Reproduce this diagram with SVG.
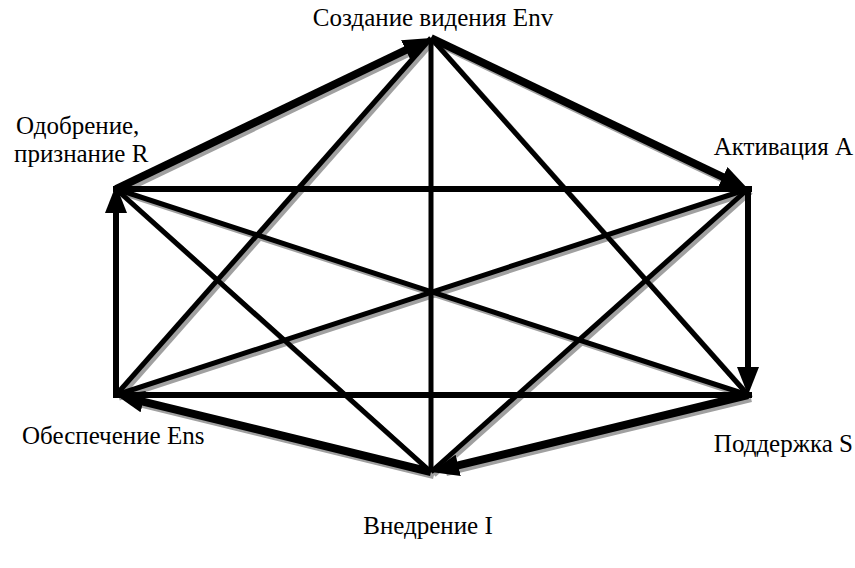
<svg xmlns="http://www.w3.org/2000/svg" width="855" height="568" viewBox="0 0 855 568">
<style>
.lbl{font-size:25px;fill:#000}
.thick{stroke:#000;stroke-width:8;fill:none}
.mid{stroke:#000;stroke-width:6;fill:none}
.thin{stroke:#000;stroke-width:5;fill:none}
.sh{stroke:#a0a0a0;fill:none}
</style>
<defs>
<marker id="ah" markerUnits="userSpaceOnUse" markerWidth="28" markerHeight="22" refX="14" refY="11" orient="auto" viewBox="0 0 28 22">
<path d="M0,0 L28,11 L0,22 z" fill="#000"/>
</marker>
</defs>
<g id="shadows" transform="translate(3,3)">
<line class="sh" stroke-width="5" x1="431" y1="38" x2="116" y2="395"/>
<line class="sh" stroke-width="5" x1="431" y1="38" x2="748" y2="395"/>
<line class="sh" stroke-width="5" x1="116" y1="189" x2="748" y2="395"/>
<line class="sh" stroke-width="5" x1="748" y1="189" x2="116" y2="395"/>
<line class="sh" stroke-width="5" x1="116" y1="189" x2="431" y2="472"/>
<line class="sh" stroke-width="5" x1="748" y1="189" x2="431" y2="472"/>
<line class="sh" stroke-width="8" x1="431" y1="38" x2="737" y2="184"/>
<line class="sh" stroke-width="8" x1="116" y1="189" x2="420" y2="43"/>
<line class="sh" stroke-width="8" x1="748" y1="395" x2="443" y2="469"/>
<line class="sh" stroke-width="8" x1="431" y1="472" x2="128" y2="398"/>
</g>
<g id="connectors">
<line class="thin" x1="431" y1="38" x2="431" y2="472"/>
<line class="thin" x1="431" y1="38" x2="116" y2="395"/>
<line class="thin" x1="431" y1="38" x2="748" y2="395"/>
<line class="thin" x1="116" y1="189" x2="748" y2="395"/>
<line class="thin" x1="748" y1="189" x2="116" y2="395"/>
<line class="thin" x1="116" y1="189" x2="431" y2="472"/>
<line class="thin" x1="748" y1="189" x2="431" y2="472"/>
<line class="mid" x1="113" y1="189" x2="752" y2="189"/>
<line class="mid" x1="113" y1="395" x2="752" y2="395"/>
<line class="thick" x1="431" y1="38" x2="735.4" y2="183" marker-end="url(#ah)"/>
<line class="mid" x1="748" y1="186" x2="748" y2="381" marker-end="url(#ah)"/>
<line class="thick" x1="748" y1="395" x2="444.6" y2="468.7" marker-end="url(#ah)"/>
<line class="thick" x1="431" y1="472" x2="129.6" y2="398.3" marker-end="url(#ah)"/>
<line class="mid" x1="116" y1="398" x2="116" y2="199" marker-end="url(#ah)"/>
<line class="thick" x1="116" y1="189" x2="418.4" y2="44" marker-end="url(#ah)"/>
</g>
<g id="node-env"><text class="lbl" font-family="Liberation Serif" x="433" y="26" text-anchor="middle">Создание видения Env</text></g>
<g id="node-r"><text class="lbl" font-family="Liberation Serif" x="16" y="134">Одобрение,</text><text class="lbl" font-family="Liberation Serif" x="14" y="162">признание R</text></g>
<g id="node-a"><text class="lbl" font-family="Liberation Serif" x="853" y="155" text-anchor="end">Активация A</text></g>
<g id="node-ens"><text class="lbl" font-family="Liberation Serif" x="22" y="444">Обеспечение Ens</text></g>
<g id="node-s"><text class="lbl" font-family="Liberation Serif" x="853" y="452" text-anchor="end">Поддержка S</text></g>
<g id="node-i"><text class="lbl" font-family="Liberation Serif" x="428" y="534" text-anchor="middle">Внедрение I</text></g>
</svg>
